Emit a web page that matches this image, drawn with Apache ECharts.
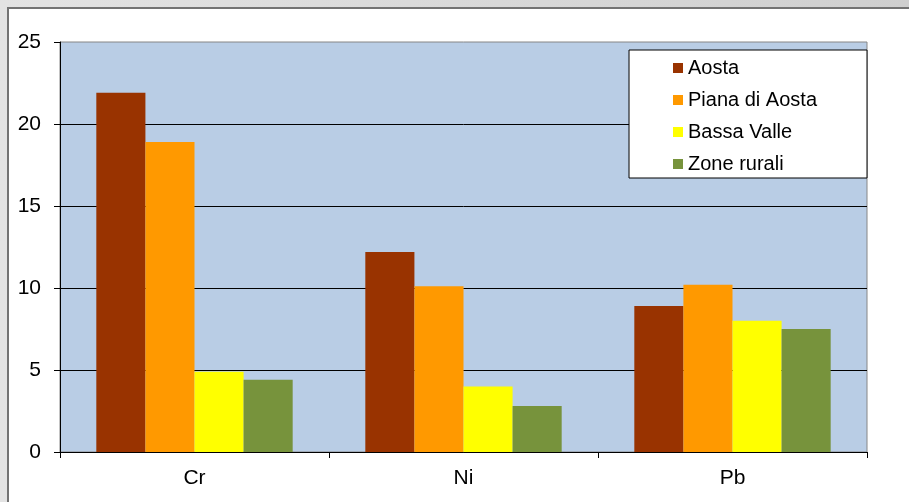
<!DOCTYPE html>
<html>
<head>
<meta charset="utf-8">
<script src="https://cdn.jsdelivr.net/npm/echarts@6/dist/echarts.min.js"></script>
<style>
  html, body { margin: 0; padding: 0; }
  body {
    width: 909px; height: 502px; overflow: hidden; position: relative;
    background: linear-gradient(to right, #e3e3e3, #cfcfcf);
  }
  #frame {
    position: absolute; left: 7px; top: 7px; right: 0; bottom: 0;
    background: #ffffff;
    border-left: 2px solid #737373; border-top: 2px solid #737373;
  }
  #chart { position: absolute; left: 0; top: 0; width: 909px; height: 502px; }
</style>
</head>
<body>
<div id="frame"></div>
<div id="chart"></div>
<script>
// Metals by area
const categories = ['Cr', 'Ni', 'Pb'];
const aosta = [21.9, 12.2, 8.9];
const pianaDiAosta = [18.9, 10.1, 10.2];
const bassaValle = [4.9, 4.0, 8.0];
const zoneRurali = [4.4, 2.8, 7.5];
const yTicks = [0, 5, 10, 15, 20, 25];

const seriesDefs = [
  { name: 'Aosta', data: aosta, color: '#993300' },
  { name: 'Piana di Aosta', data: pianaDiAosta, color: '#FF9900' },
  { name: 'Bassa Valle', data: bassaValle, color: '#FFFF00' },
  { name: 'Zone rurali', data: zoneRurali, color: '#77933C' }
];

const font = '"Liberation Sans", Arial, sans-serif';
const chart = echarts.init(document.getElementById('chart'), null, { renderer: 'canvas' });

chart.setOption({
  backgroundColor: 'transparent',
  animation: false,
  grid: {
    left: 60, top: 42, width: 807, height: 410,
    show: true, backgroundColor: '#B9CDE5',
    borderColor: '#868686', borderWidth: 1
  },
  legend: {
    orient: 'vertical',
    right: 42, top: 50,
    backgroundColor: '#ffffff',
    borderColor: '#000000', borderWidth: 1,
    padding: [8, 50, 4, 44],
    itemWidth: 10, itemHeight: 10, itemGap: 12,
    icon: 'rect',
    textStyle: { fontFamily: font, fontSize: 20, color: '#000', lineHeight: 20 },
    data: seriesDefs.map(s => s.name)
  },
  xAxis: {
    type: 'category',
    data: categories,
    axisLine: { show: true, lineStyle: { color: '#000', width: 1 } },
    axisTick: { show: true, length: 6, alignWithLabel: false, lineStyle: { color: '#000' } },
    axisLabel: { fontFamily: font, fontSize: 21, color: '#000', margin: 16 },
    splitLine: { show: false }
  },
  yAxis: {
    type: 'value',
    min: yTicks[0], max: yTicks[yTicks.length - 1], interval: 5,
    axisLine: { show: true, lineStyle: { color: '#000', width: 1 } },
    axisTick: { show: true, length: 6, lineStyle: { color: '#000' } },
    axisLabel: { fontFamily: font, fontSize: 21, color: '#000', margin: 19 },
    splitLine: { show: true, showMaxLine: false, lineStyle: { color: '#000', width: 1 } }
  },
  series: seriesDefs.map(s => ({
    name: s.name,
    type: 'bar',
    data: s.data,
    barGap: '0%',
    barCategoryGap: '27%',
    itemStyle: { color: s.color },
    emphasis: { disabled: true }
  }))
});
</script>
</body>
</html>
